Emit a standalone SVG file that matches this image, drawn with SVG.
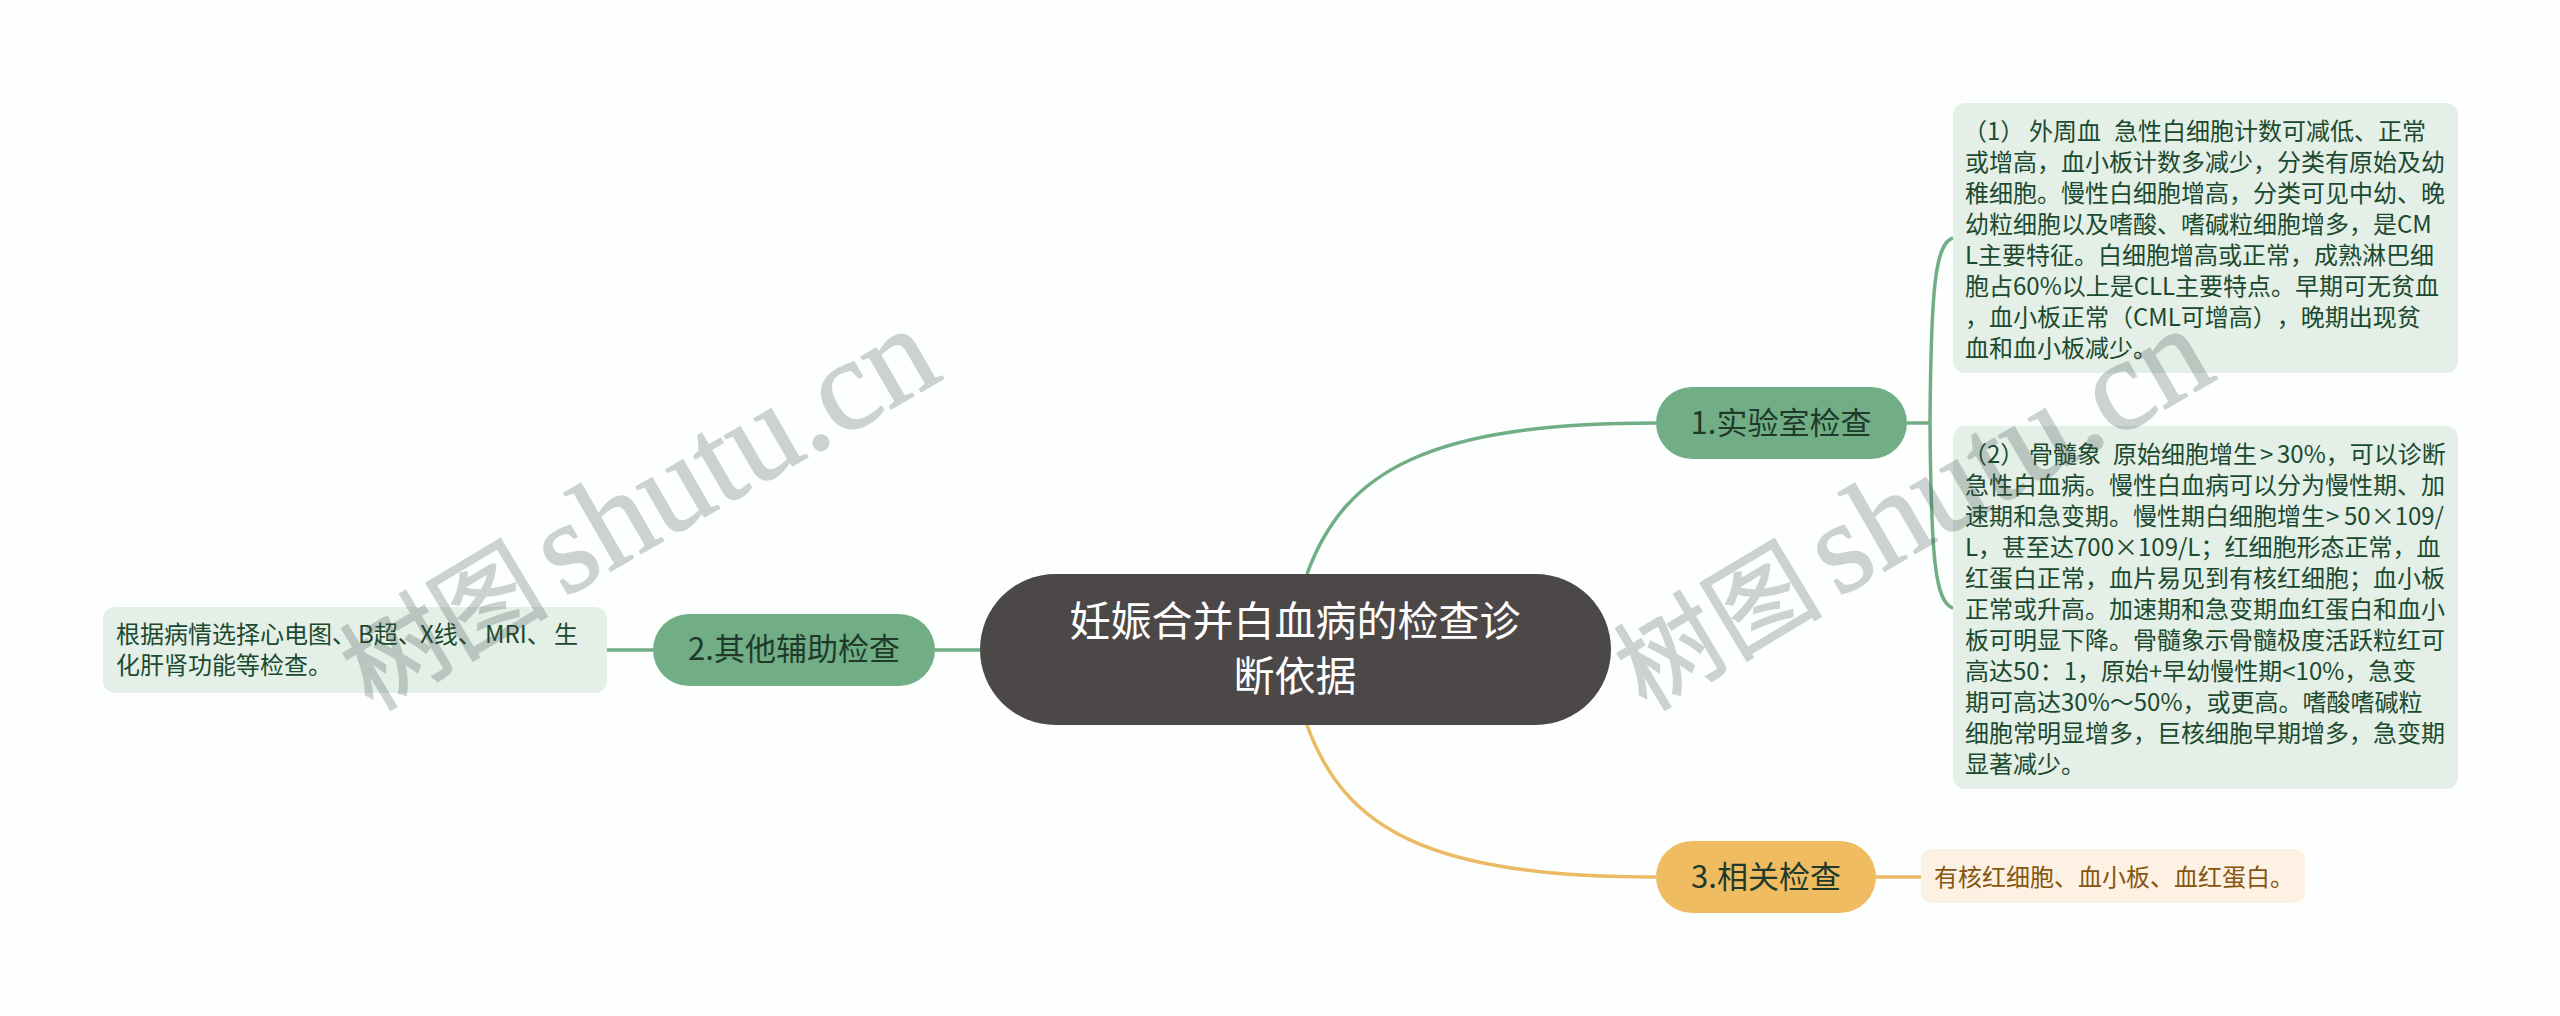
<svg xmlns="http://www.w3.org/2000/svg" width="2560" height="1016" viewBox="0 0 2560 1016">
<style>
.t{font-family:"Noto Sans CJK SC","Noto Sans",sans-serif;text-spacing-trim:space-all}
.leaf{font-size:24px;fill:#1c4a2e}
.sub{font-size:31px;fill:#1f3a2a;text-anchor:middle}
.c{fill:none;stroke-width:3.5}
.g{stroke:#71ae86}
.y{stroke:#ecb964}
.wm{fill:#37474a;stroke:#37474a;stroke-width:1.5;opacity:.24;font-family:"Liberation Serif","Noto Sans CJK SC",serif}
.wc{font-size:104px}
.wl{font-size:131px}
</style>
<rect width="2560" height="1016" fill="#fcfffe"/>
<g id="connectors">
<path class="c g" d="M1307,574C1345,470 1430,423 1656,423"/>
<path class="c y" d="M1307,725C1345,830 1430,877 1656,877"/>
<path class="c g" d="M934,650H980M607,650H653M1907,423H1930"/>
<path class="c y" d="M1876,877H1921"/>
<path class="c g" d="M1953,238C1935,243 1931,290 1930,423C1931,556 1935,603 1953,608"/>
</g>
<g id="root"><rect x="980" y="574" width="631" height="151" rx="75.5" fill="#4d4848"/>
<text class="t" font-size="41" fill="#fff" text-anchor="middle"><tspan x="1295" y="636">妊娠合并白血病的检查诊</tspan><tspan x="1295" y="691">断依据</tspan></text></g>
<g id="n1"><rect x="1656" y="387" width="251" height="72" rx="36" fill="#71ae86"/><text class="t sub" x="1781" y="434">1.实验室检查</text></g>
<g id="n2"><rect x="653" y="614" width="282" height="72" rx="36" fill="#71ae86"/><text class="t sub" x="794" y="660">2.其他辅助检查</text></g>
<g id="n3"><rect x="1656" y="841" width="220" height="72" rx="36" fill="#f0bc62"/><text class="t sub" x="1766" y="888" fill="#4a3510">3.相关检查</text></g>
<g id="leaf1"><rect x="1953" y="103" width="505" height="270" rx="12" fill="#e3efe7"/>
<text class="t leaf"><tspan x="1963" y="140">（1）</tspan><tspan x="2029" y="140">外周血</tspan><tspan x="2114" y="140">急性白细胞计数可减低、正常</tspan><tspan x="1965" y="171">或增高，血小板计数多减少，分类有原始及幼</tspan><tspan x="1965" y="202">稚细胞。慢性白细胞增高，分类可见中幼、晚</tspan><tspan x="1965" y="233">幼粒细胞以及嗜酸、嗜碱粒细胞增多，是CM</tspan><tspan x="1965" y="264">L主要特征。白细胞增高或正常，成熟淋巴细</tspan><tspan x="1965" y="295">胞占60%以上是CLL主要特点。早期可无贫血</tspan><tspan x="1965" y="326">，血小板正常（CML可增高），晚期出现贫</tspan><tspan x="1965" y="357">血和血小板减少。</tspan></text></g>
<g id="leaf2"><rect x="1953" y="426" width="505" height="363" rx="12" fill="#e3efe7"/>
<text class="t leaf"><tspan x="1963" y="463">（2）</tspan><tspan x="2029" y="463">骨髓象</tspan><tspan x="2113" y="463">原始细胞增生</tspan><tspan x="2260" y="463">&gt;</tspan><tspan x="2277" y="463">30%，可以诊断</tspan><tspan x="1965" y="494">急性白血病。慢性白血病可以分为慢性期、加</tspan><tspan x="1965" y="525">速期和急变期。慢性期白细胞增生</tspan><tspan x="2326" y="525">&gt;</tspan><tspan x="2344" y="525">50×109/</tspan><tspan x="1965" y="556">L，甚至达700×109/L；红细胞形态正常，血</tspan><tspan x="1965" y="587">红蛋白正常，血片易见到有核红细胞；血小板</tspan><tspan x="1965" y="618">正常或升高。加速期和急变期血红蛋白和血小</tspan><tspan x="1965" y="649">板可明显下降。骨髓象示骨髓极度活跃粒红可</tspan><tspan x="1965" y="680">高达50：1，原始+早幼慢性期&lt;10%，急变</tspan><tspan x="1965" y="711">期可高达30%～50%，或更高。嗜酸嗜碱粒</tspan><tspan x="1965" y="742">细胞常明显增多，巨核细胞早期增多，急变期</tspan><tspan x="1965" y="773">显著减少。</tspan></text></g>
<g id="leaf3"><rect x="1921" y="849" width="384" height="54" rx="10" fill="#fcf1e2"/><text class="t" font-size="24" fill="#86560f" x="1934" y="886">有核红细胞、血小板、血红蛋白。</text></g>
<g id="leaf4"><rect x="103" y="607" width="504" height="86" rx="12" fill="#e3efe7"/>
<text class="t leaf"><tspan x="116" y="643">根据病情选择心电图、</tspan><tspan x="358" y="643">B超、</tspan><tspan x="420" y="643">X线、</tspan><tspan x="485" y="643">MRI、</tspan><tspan x="554" y="643">生</tspan><tspan x="116" y="674">化肝肾功能等检查。</tspan></text></g>
<g id="watermarks">
<text class="wm wc" transform="translate(372,712) rotate(-31)">树图</text>
<text class="wm wl" transform="translate(564,598) rotate(-30)">shutu.cn</text>
<text class="wm wc" transform="translate(1646,712) rotate(-31)">树图</text>
<text class="wm wl" transform="translate(1838,598) rotate(-30)">shutu.cn</text>
</g>
</svg>
